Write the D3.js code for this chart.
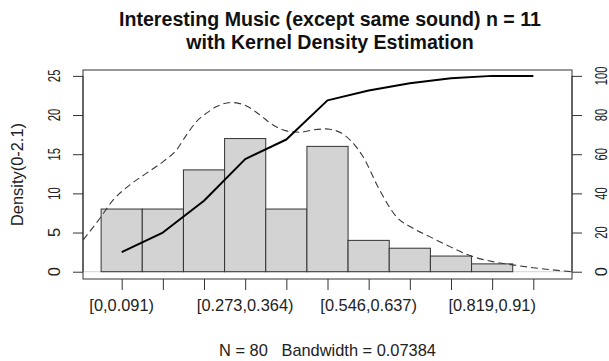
<!DOCTYPE html>
<html><head><meta charset="utf-8">
<script src="https://cdn.jsdelivr.net/npm/d3@7"></script>
<style>html,body{margin:0;padding:0;background:#fff;} svg{display:block;font-family:"Liberation Sans",Arial,sans-serif;} text{white-space:pre;}</style>
</head><body>
<script>
// ---- data ----
const categories = ["[0,0.091)","[0.091,0.182)","[0.182,0.273)","[0.273,0.364)","[0.364,0.455)","[0.455,0.546)","[0.546,0.637)","[0.637,0.728)","[0.728,0.819)","[0.819,0.91)","[0.91,1]"];
const counts = [8,8,13,17,8,16,4,3,2,1,0];
const cumPercent = [10,20,36.25,57.5,67.5,87.5,92.5,96.25,98.75,100,100];
const densX = [-0.0395,-0.0026,0.0267,0.0636,0.1004,0.137,0.1666,0.1887,0.2107,0.2328,0.2549,0.288,0.321,0.3504,0.3798,0.4093,0.4387,0.468,0.4976,0.505,0.5417,0.5783,0.615,0.652,0.6887,0.7255,0.7624,0.821,0.865,0.909,0.983,1.038];
const densY = [4.06,6.83,9.17,11.08,12.58,14.06,15.55,17.47,19.17,20.24,21.08,21.6,21.17,20.02,18.74,17.98,17.81,18.1,18.23,18.19,17.25,14.7,10.44,7.04,5.55,4.48,3.42,1.93,1.29,0.87,0.32,0.01];
const leftTicks = [0,5,10,15,20,25];
const rightTicks = [0,20,40,60,80,100];
const titleLines = ["Interesting Music (except same sound) n = 11","with Kernel Density Estimation"];
const yTitle = "Density(0-2.1)";
const subText = "N = 80   Bandwidth = 0.07384";

// ---- layout ----
const W = 609, H = 361;
const box = {l:83, r:572, t:70, b:279};
const nb = categories.length;
const x = d3.scaleLinear().domain([-0.04*nb, nb*1.04]).range([box.l, box.r]);
const y = d3.scaleLinear().domain([-0.93, 25.75]).range([box.b, box.t]);
const y2 = d3.scaleLinear().domain([-0.93*4, 25.75*4]).range([box.b, box.t]);

const svg = d3.select("body").append("svg").attr("width", W).attr("height", H);
svg.append("defs").append("clipPath").attr("id","clip")
  .append("rect").attr("x",box.l).attr("y",box.t).attr("width",box.r-box.l).attr("height",box.b-box.t);

// baseline
svg.append("line").attr("x1",box.l).attr("x2",box.r).attr("y1",y(0)).attr("y2",y(0))
  .attr("stroke","#d4d4d4").attr("stroke-width",1);

// bars
svg.append("g").selectAll("rect").data(counts).join("rect")
  .attr("x",(d,i)=>x(i)).attr("width",x(1)-x(0))
  .attr("y",d=>y(d)).attr("height",d=>y(0)-y(d))
  .attr("fill","#d3d3d3").attr("stroke","#333").attr("stroke-width",1)
  .attr("display",d=>d>0?null:"none");

// density curve (dashed)
svg.append("path").datum(densX.map((v,i)=>[v*nb, densY[i]]))
  .attr("clip-path","url(#clip)")
  .attr("d", d3.line().x(d=>x(d[0])).y(d=>y(d[1])).curve(d3.curveMonotoneX))
  .attr("fill","none").attr("stroke","#3a3a3a").attr("stroke-width",1.1).attr("stroke-dasharray","7,4");

// cumulative line
svg.append("path").datum(cumPercent)
  .attr("d", d3.line().x((d,i)=>x(i+0.5)).y(d=>y2(d)))
  .attr("fill","none").attr("stroke","#000").attr("stroke-width",2).attr("stroke-linejoin","round");

// box
svg.append("rect").attr("x",box.l).attr("y",box.t).attr("width",box.r-box.l).attr("height",box.b-box.t)
  .attr("fill","none").attr("stroke","#333").attr("stroke-width",1);

// left axis
const gl = svg.append("g").attr("transform",`translate(${box.l},0)`)
  .call(d3.axisLeft(y).tickValues(leftTicks).tickSize(10).tickFormat(""));
gl.select(".domain").attr("d",`M0,${y(0)}V${y(25)}`).attr("stroke","#333");
gl.selectAll(".tick line").attr("stroke","#333");
leftTicks.forEach(t=>{
  const s = String(t).length>1?0.69:1;
  svg.append("text").attr("transform",`translate(60,${y(t)}) rotate(-90) scale(${s},1)`)
    .attr("text-anchor","middle").attr("font-size",16.4).attr("fill","#222").text(t);
});

// right axis
const gr = svg.append("g").attr("transform",`translate(${box.r},0)`)
  .call(d3.axisRight(y2).tickValues(rightTicks).tickSize(10).tickFormat(""));
gr.select(".domain").attr("d",`M0,${y2(0)}V${y2(100)}`).attr("stroke","#333");
gr.selectAll(".tick line").attr("stroke","#333");
rightTicks.forEach(t=>{
  const s = String(t).length>1?0.69:1;
  svg.append("text").attr("transform",`translate(606.5,${y2(t)}) rotate(-90) scale(${s},1)`)
    .attr("text-anchor","middle").attr("font-size",16.4).attr("fill","#222").text(t);
});

// bottom axis
const gb = svg.append("g").attr("transform",`translate(0,${box.b})`)
  .call(d3.axisBottom(x).tickValues(d3.range(nb).map(i=>i+0.5)).tickSize(11).tickFormat(""));
gb.select(".domain").remove();
gb.selectAll(".tick line").attr("stroke","#333");
categories.forEach((c,i)=>{
  if(i%3!==0) return;
  svg.append("text").attr("x",x(i+0.5)).attr("y",310.7).attr("text-anchor","middle")
    .attr("font-size",16.4).attr("fill","#222").text(c);
});

// y title
svg.append("text").attr("transform",`translate(22.7,${(box.t+box.b)/2}) rotate(-90)`)
  .attr("text-anchor","middle").attr("font-size",16.4).attr("fill","#222").text(yTitle);

// title
titleLines.forEach((t,i)=>{
  svg.append("text").attr("x",330).attr("y",26+i*22.8).attr("text-anchor","middle")
    .attr("font-size",19.6).attr("font-weight","bold").attr("fill","#111").text(t);
});

// sub text
svg.append("text").attr("x",(box.l+box.r)/2).attr("y",356).attr("text-anchor","middle")
  .attr("xml:space","preserve")
  .attr("font-size",16.4).attr("fill","#222").text(subText);
</script>
</body></html>
